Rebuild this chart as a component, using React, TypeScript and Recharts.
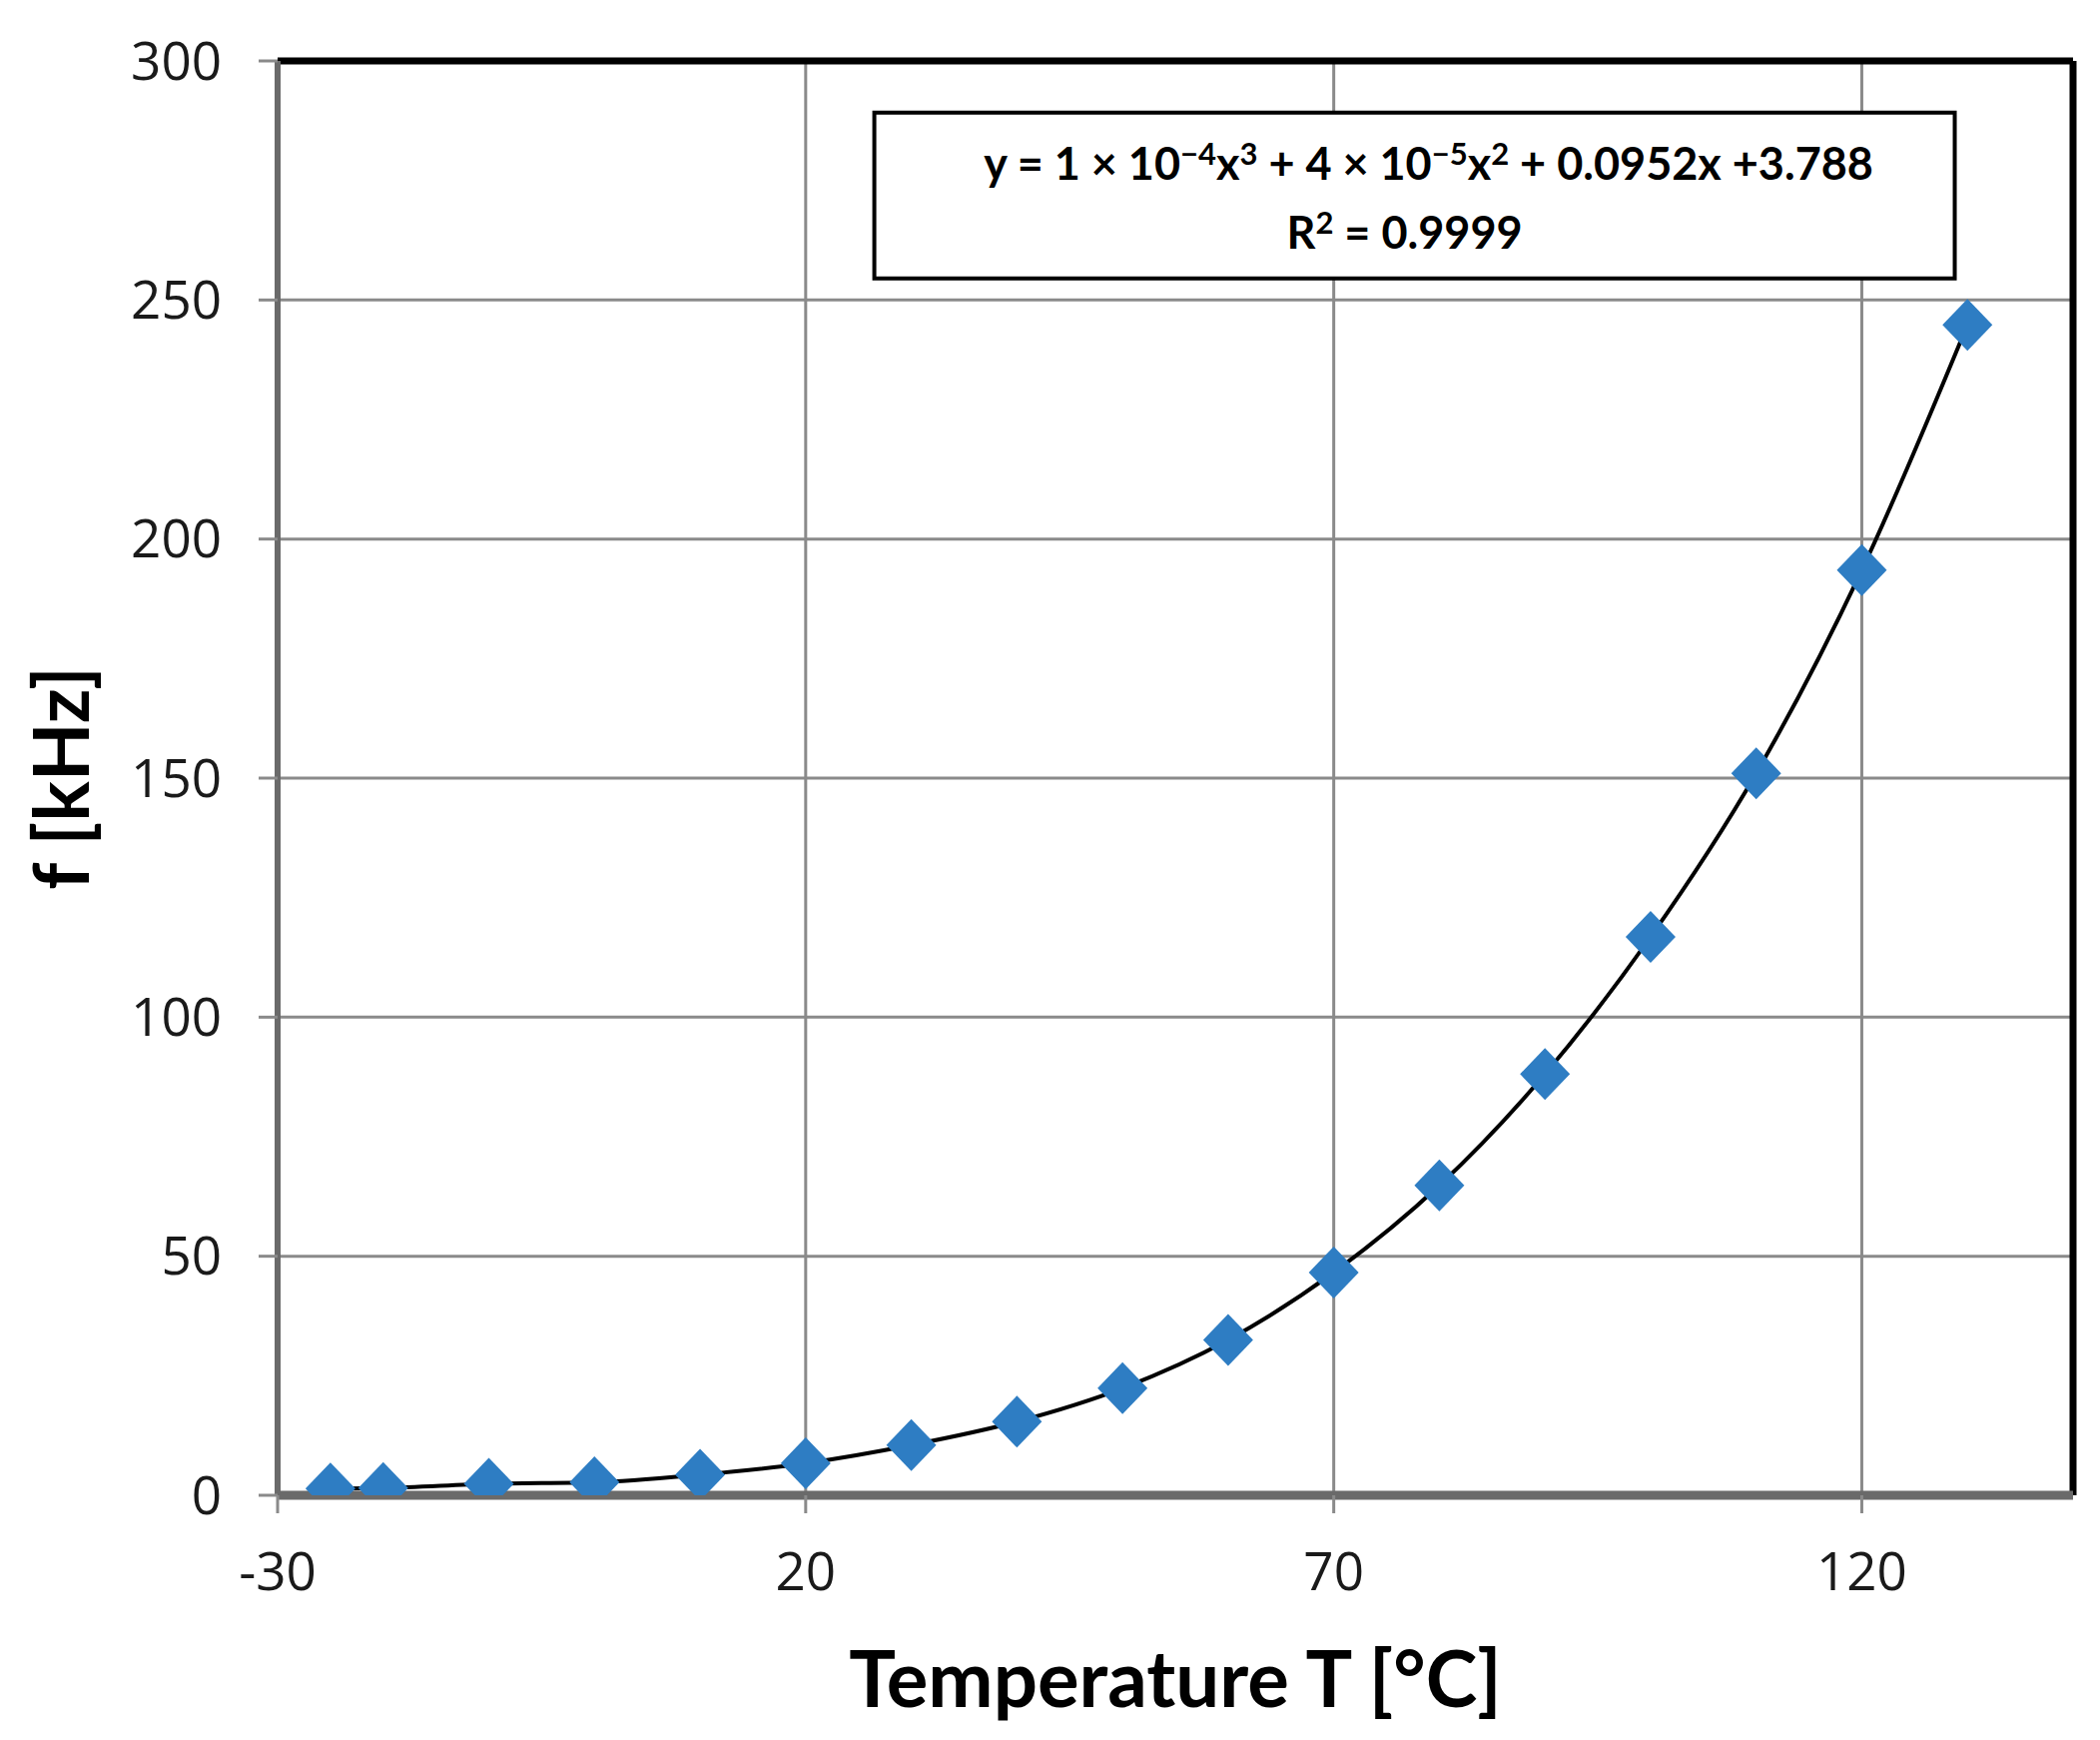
import React from 'react';
import {
  ComposedChart,
  Line,
  Scatter,
  XAxis,
  YAxis,
  CartesianGrid,
  ReferenceArea,
  ReferenceLine,
  Label,
} from 'recharts';

// ---- data ----
const temperatures = [-25, -20, -10, 0, 10, 20, 30, 40, 50, 60, 70, 80, 90, 100, 110, 120, 130];
const frequencies = [1.4, 1.5, 2.4, 2.7, 4.3, 6.7, 10.5, 15.4, 22.4, 32.5, 46.6, 64.8, 88.1, 116.8, 151.0, 193.5, 244.8];
const xTicks = [-30, 20, 70, 120];
const yTicks = [0, 50, 100, 150, 200, 250, 300];
const xDomain: [number, number] = [-30, 140];
const yDomain: [number, number] = [0, 300];
const eqBoxX: [number, number] = [26.5, 128.8];
const eqBoxY: [number, number] = [254.5, 289.2];

const xLabel = 'Temperature T [°C]';
const yLabel = 'f [kHz]';

const data = temperatures.map((T, i) => ({ T, f: frequencies[i] }));

const W = 2095;
const H = 1734;
const BLUE = '#2E7DC3';
const GRID = '#8a8a8a';
const AXIS = '#6a6a6a';
const BOLD_FONT = 'Lato, "Open Sans", sans-serif';
const TICK_FONT = '"Open Sans", "Noto Sans", sans-serif';

const Diamond = (props: any) => {
  const { cx, cy } = props;
  if (cx == null || cy == null) return null;
  const hw = 25;
  const hh = 26;
  return (
    <polygon
      points={`${cx},${cy - hh} ${cx + hw},${cy} ${cx},${cy + hh} ${cx - hw},${cy}`}
      fill={BLUE}
    />
  );
};

const EqText = (props: any) => {
  const vb = props.viewBox;
  if (!vb) return null;
  const cx = vb.x + vb.width / 2;
  const sup = 15;
  const supSize = 31;
  return (
    <g fontFamily={BOLD_FONT} fontWeight={700} fontSize={45} fill="#000" style={{ whiteSpace: 'pre' }}>
      <text x={cx + 14} y={vb.y + 67} textAnchor="middle">
        <tspan>{'y = 1 × 10'}</tspan>
        <tspan dy={-sup} fontSize={supSize}>{'−4'}</tspan>
        <tspan dy={sup}>{'x'}</tspan>
        <tspan dy={-sup} fontSize={supSize}>{'3'}</tspan>
        <tspan dy={sup}>{' + 4 × 10'}</tspan>
        <tspan dy={-sup} fontSize={supSize}>{'−5'}</tspan>
        <tspan dy={sup}>{'x'}</tspan>
        <tspan dy={-sup} fontSize={supSize}>{'2'}</tspan>
        <tspan dy={sup}>{' + 0.0952x +3.788'}</tspan>
      </text>
      <text x={cx - 10} y={vb.y + 136} textAnchor="middle">
        <tspan>{'R'}</tspan>
        <tspan dy={-sup} fontSize={supSize}>{'2'}</tspan>
        <tspan dy={sup}>{' = 0.9999'}</tspan>
      </text>
    </g>
  );
};

const YLabel = (props: any) => {
  const vb = props.viewBox;
  if (!vb) return null;
  const x = vb.x + 51;
  const y = vb.y + vb.height / 2;
  return (
    <text
      x={x}
      y={y}
      transform={`rotate(-90, ${x}, ${y})`}
      textAnchor="middle"
      fontFamily={BOLD_FONT}
      fontWeight={700}
      fontSize={76}
      fill="#000"
    >
      {yLabel}
    </text>
  );
};

const XLabel = (props: any) => {
  const vb = props.viewBox;
  if (!vb) return null;
  return (
    <text
      x={vb.x + vb.width / 2}
      y={vb.y + 212}
      textAnchor="middle"
      fontFamily={BOLD_FONT}
      fontWeight={700}
      fontSize={78}
      fill="#000"
    >
      {xLabel}
    </text>
  );
};

export default function App() {
  return (
    <div style={{ width: W, height: H, background: '#fff' }}>
      <ComposedChart
        width={W}
        height={H}
        data={data}
        margin={{ top: 53, right: 27, bottom: 25, left: 30 }}
      >
        <CartesianGrid stroke={GRID} strokeWidth={3} />
        <XAxis
          dataKey="T"
          type="number"
          domain={xDomain}
          ticks={xTicks}
          allowDataOverflow
          height={220}
          axisLine={{ stroke: AXIS, strokeWidth: 9 }}
          tickLine={{ stroke: GRID, strokeWidth: 3 }}
          tickSize={18}
          tickMargin={39}
          tick={{ fill: '#1a1a1a', fontSize: 53, fontFamily: TICK_FONT }}
        >
          <Label content={XLabel} />
        </XAxis>
        <YAxis
          type="number"
          domain={yDomain}
          ticks={yTicks}
          allowDataOverflow
          width={240}
          axisLine={{ stroke: AXIS, strokeWidth: 6 }}
          tickLine={{ stroke: GRID, strokeWidth: 3 }}
          tickSize={19}
          tickMargin={37}
          tick={{ fill: '#1a1a1a', fontSize: 53, fontFamily: TICK_FONT }}
        >
          <Label content={YLabel} />
        </YAxis>
        <ReferenceLine y={300} stroke="#000" strokeWidth={7} />
        <ReferenceLine x={140} stroke="#000" strokeWidth={7} />
        <ReferenceArea
          x1={eqBoxX[0]}
          x2={eqBoxX[1]}
          y1={eqBoxY[0]}
          y2={eqBoxY[1]}
          fill="#fff"
          fillOpacity={1}
          stroke="#000"
          strokeWidth={4}
        >
          <Label content={EqText} />
        </ReferenceArea>
        <Scatter data={data} dataKey="f" shape={Diamond} isAnimationActive={false} />
        <Line
          dataKey="f"
          type="monotone"
          stroke="#000"
          strokeWidth={4}
          dot={false}
          activeDot={false}
          isAnimationActive={false}
        />
      </ComposedChart>
    </div>
  );
}
